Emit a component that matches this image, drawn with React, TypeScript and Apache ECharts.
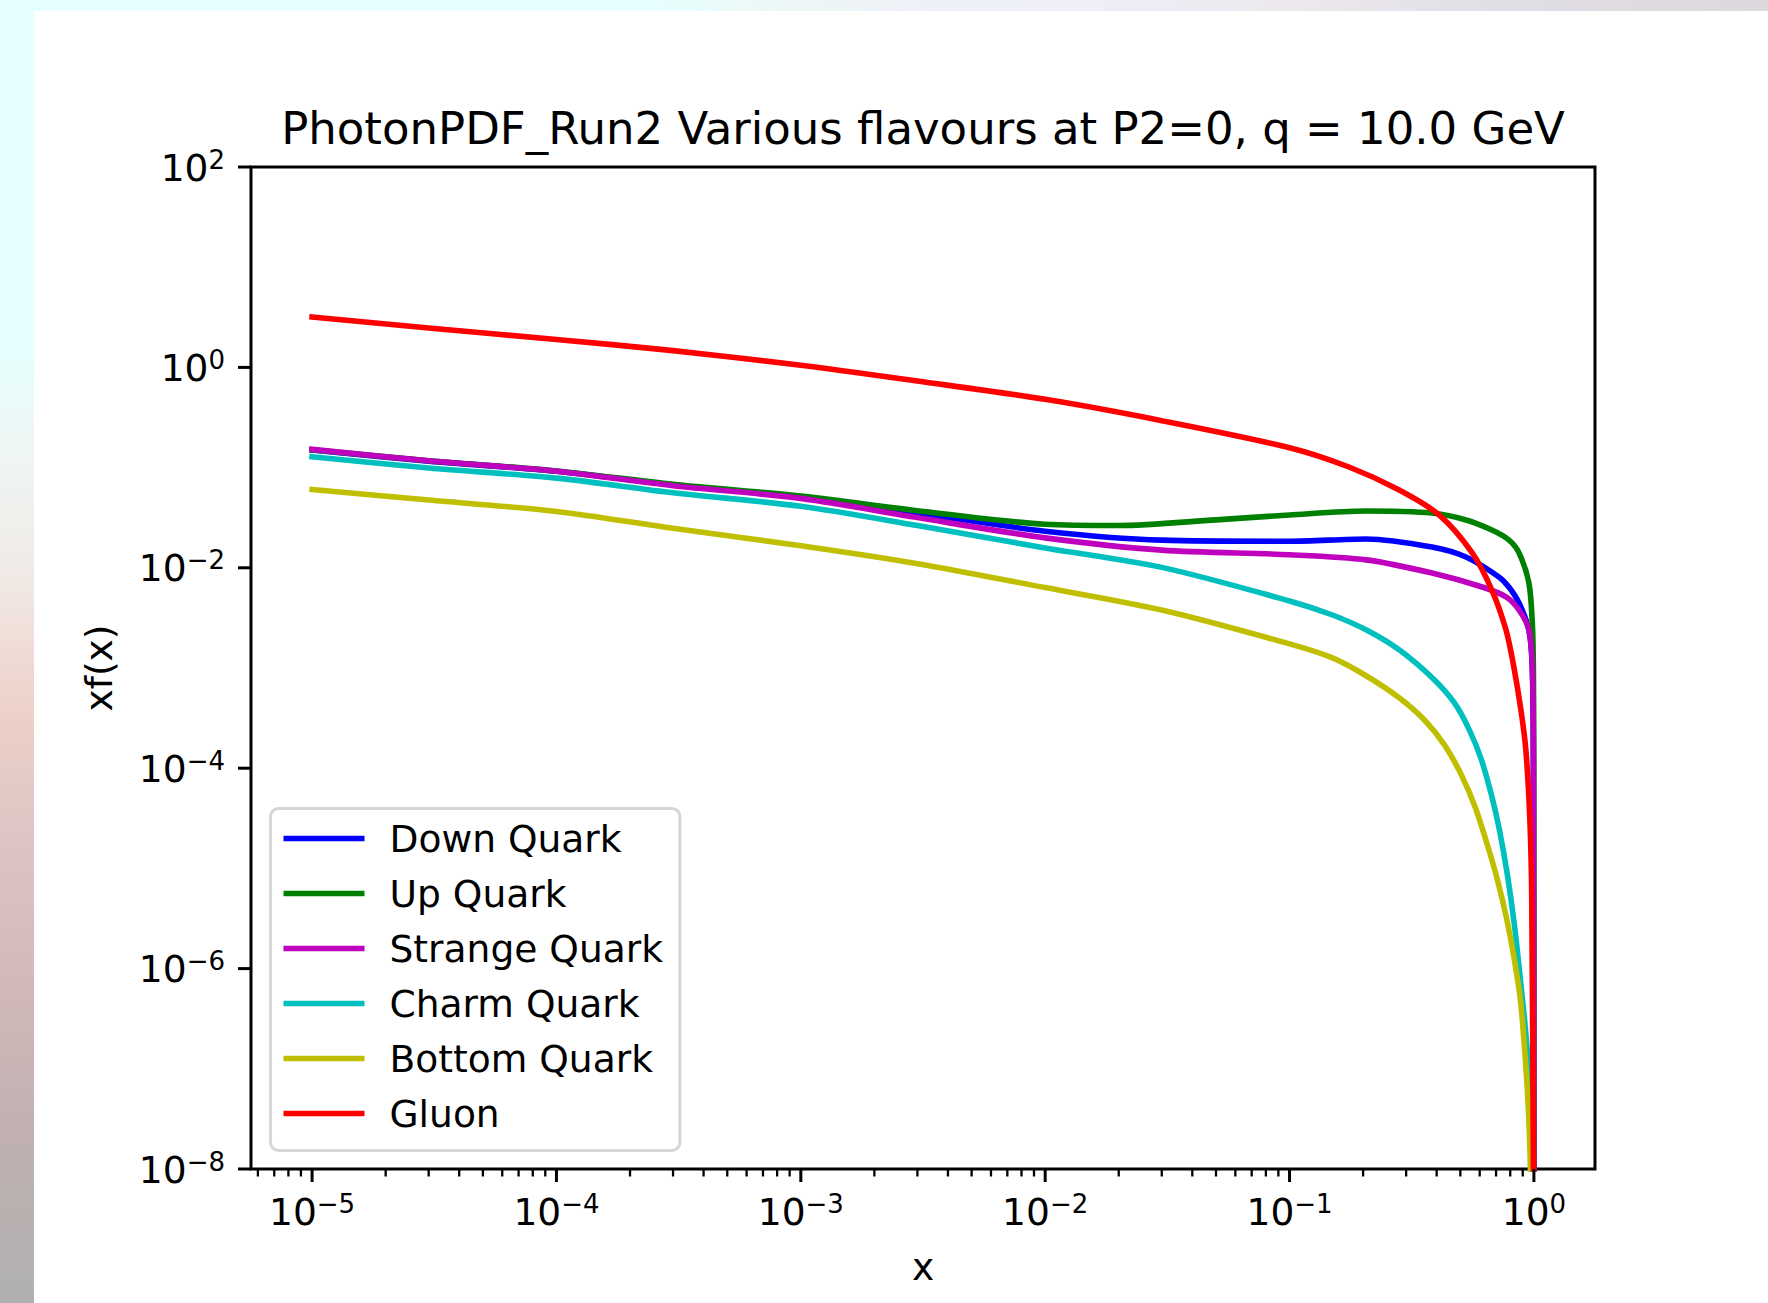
import React, { useEffect, useRef } from 'react';
import * as echarts from 'echarts';

// ---------- texts ----------
const TITLE = 'PhotonPDF_Run2 Various flavours at P2=0, q = 10.0 GeV';
const X_LABEL = 'x';
const Y_LABEL = 'xf(x)';

// ---------- axes ----------
const X_MIN_EXP = -5.25;
const X_MAX_EXP = 0.25;
const Y_MIN_EXP = -8;
const Y_MAX_EXP = 2;
const xMajorExps = [-5, -4, -3, -2, -1, 0];
const yMajorExps = [-8, -6, -4, -2, 0, 2];
const xMinorDecades = [-6, -5, -4, -3, -2, -1];
const xMinorMultipliers = [2, 3, 4, 5, 6, 7, 8, 9];

// ---------- series ----------
const seriesNames = ['Down Quark', 'Up Quark', 'Strange Quark', 'Charm Quark', 'Bottom Quark', 'Gluon'];
const seriesColors = ['#0000ff', '#008000', '#bf00bf', '#00bfbf', '#bfbf00', '#ff0000'];

const downQuark = [
  [1e-5, 0.150], [3e-5, 0.116], [1e-4, 0.0918], [3e-4, 0.0671], [1e-3, 0.0506], [3e-3, 0.0352],
  [1e-2, 0.0232], [3e-2, 0.0189], [0.1, 0.0184], [0.206, 0.0194], [0.383, 0.0161], [0.527, 0.0128],
  [0.719, 0.0081], [0.791, 0.0064], [0.869, 0.00445], [0.954, 0.00239], [0.985, 0.001], [0.995, 1e-4],
  [0.9995, 1e-9],
];
const upQuark = [
  [1e-5, 0.151], [3e-5, 0.117], [1e-4, 0.0925], [3e-4, 0.068], [1e-3, 0.0519], [3e-3, 0.0371],
  [1e-2, 0.0272], [2e-2, 0.0264], [5e-2, 0.0301], [0.1, 0.0337], [0.206, 0.0369], [0.383, 0.0352],
  [0.527, 0.030], [0.673, 0.0238], [0.791, 0.0189], [0.869, 0.0141], [0.954, 0.00705], [0.985, 0.0028],
  [0.995, 0.001], [0.999, 1e-4], [0.9999, 1e-9],
];
const strangeQuark = [
  [1e-5, 0.152], [3e-5, 0.117], [1e-4, 0.092], [3e-4, 0.066], [1e-3, 0.0493], [3e-3, 0.0317],
  [1e-2, 0.0199], [3e-2, 0.0150], [0.1, 0.0135], [0.206, 0.0120], [0.383, 0.00887], [0.614, 0.00643],
  [0.769, 0.00512], [0.869, 0.00379], [0.954, 0.00239], [0.985, 0.00102], [0.995, 1.5e-4], [0.9995, 1e-9],
];
const charmQuark = [
  [1e-5, 0.1285], [3e-5, 0.099], [1e-4, 0.0785], [3e-4, 0.0561], [1e-3, 0.0411], [3e-3, 0.0264],
  [1e-2, 0.0158], [3e-2, 0.0101], [0.1, 0.00467], [0.1499, 0.00338], [0.2065, 0.00239], [0.2817, 0.00151],
  [0.3845, 7.94e-4], [0.4729, 4.48e-4], [0.5447, 2.40e-4], [0.6099, 1.21e-4], [0.6704, 5.4e-5],
  [0.7228, 2.42e-5], [0.7791, 8.6e-6], [0.8322, 2.72e-6], [0.8807, 7.7e-7], [0.9318, 1.94e-7],
  [0.9676, 4.9e-8], [0.986, 1.05e-8], [0.99, 1e-9],
];
const bottomQuark = [
  [1e-5, 0.0605], [3e-5, 0.0475], [1e-4, 0.0365], [3e-4, 0.0248], [1e-3, 0.0166], [3e-3, 0.011],
  [1e-2, 0.00635], [3e-2, 0.00379], [0.1, 0.00174], [0.1499, 0.00126], [0.2065, 8.32e-4], [0.2817, 5.02e-4],
  [0.3565, 3.03e-4], [0.4303, 1.71e-4], [0.5051, 8.55e-5], [0.5765, 4.01e-5], [0.6454, 1.71e-5],
  [0.7093, 7.66e-6], [0.7722, 3.2e-6], [0.8322, 1.22e-6], [0.8807, 4.86e-7], [0.923, 1.22e-7],
  [0.9495, 3.88e-8], [0.9676, 1.0e-8], [0.972, 1e-9],
];
const gluon = [
  [1e-5, 3.19], [3e-5, 2.47], [1e-4, 1.90], [3e-4, 1.47], [1e-3, 1.05], [3e-3, 0.73], [1e-2, 0.48],
  [3e-2, 0.294], [0.1, 0.158], [0.175, 0.1014], [0.281, 0.0597], [0.409, 0.0337], [0.559, 0.0141],
  [0.673, 0.006], [0.769, 0.00239], [0.828, 0.00102], [0.885, 3.8e-4], [0.927, 1.52e-4], [0.963, 3.0e-5],
  [0.98, 4.8e-6], [0.995, 1e-8], [0.999, 1e-9],
];
const seriesData = [downQuark, upQuark, strangeQuark, charmQuark, bottomQuark, gluon];

// ---------- styling ----------
const FONT = 'DejaVu Sans';
const MAIN_SIZE = 37.6;
const SUP_SIZE = 26;
const MAJOR_LEN = 13;
const MINOR_LEN = 7.5;
const TICK_PAD = 13;

let measureCtx: CanvasRenderingContext2D | null = null;
function textWidth(t: string, size: number): number {
  if (!measureCtx) measureCtx = document.createElement('canvas').getContext('2d');
  if (!measureCtx) return t.length * size * 0.6;
  measureCtx.font = `${size}px "${FONT}"`;
  return measureCtx.measureText(t).width;
}
function expText(e: number): string {
  return e < 0 ? '\u2212' + Math.abs(e) : String(e);
}
function txt(x: number, y: number, text: string, size: number, align: string) {
  return {
    type: 'text',
    x,
    y,
    style: {
      text,
      fontSize: size,
      fontFamily: FONT,
      fill: '#000',
      align,
      verticalAlign: 'middle',
      textAlign: align,
      textVerticalAlign: 'middle',
    },
  };
}

export default function App() {
  const ref = useRef<HTMLDivElement>(null);

  useEffect(() => {
    if (!ref.current) return;
    const chart = echarts.init(ref.current, null, { renderer: 'svg' });
    const xMin = Math.pow(10, X_MIN_EXP);
    const yMin = Math.pow(10, Y_MIN_EXP);

    const xMinorValues: number[] = [];
    xMinorDecades.forEach((d) => {
      xMinorMultipliers.forEach((m) => {
        const v = m * Math.pow(10, d);
        const lv = Math.log10(v);
        if (lv >= X_MIN_EXP && lv <= X_MAX_EXP) xMinorValues.push(v);
      });
    });

    const lineSeries = seriesNames.map((name, i) => ({
      name,
      type: 'line',
      data: seriesData[i],
      showSymbol: false,
      symbol: 'none',
      silent: true,
      smooth: 0.3,
      lineStyle: { color: seriesColors[i], width: 5.6, cap: 'square', join: 'round' },
      itemStyle: { color: seriesColors[i] },
      emphasis: { disabled: true },
      z: 2,
    }));

    const option: any = {
      animation: false,
      backgroundColor: '#ffffff',
      grid: {
        left: 217,
        top: 156,
        width: 1344,
        height: 1002,
        show: true,
        borderColor: '#000',
        borderWidth: 3,
        backgroundColor: 'transparent',
        containLabel: false,
      },
      xAxis: {
        type: 'log',
        logBase: 10,
        min: xMin,
        max: Math.pow(10, X_MAX_EXP),
        axisLine: { show: false },
        axisTick: { show: false },
        axisLabel: { show: false },
        splitLine: { show: false },
        minorTick: { show: false },
      },
      yAxis: {
        type: 'log',
        logBase: 10,
        min: yMin,
        max: Math.pow(10, Y_MAX_EXP),
        axisLine: { show: false },
        axisTick: { show: false },
        axisLabel: { show: false },
        splitLine: { show: false },
        minorTick: { show: false },
      },
      legend: {
        data: seriesNames,
        orient: 'vertical',
        left: 236.5,
        top: 797.5,
        padding: [10, 17, 17, 13],
        itemWidth: 81,
        itemHeight: 5.6,
        itemGap: 15,
        icon: 'rect',
        selectedMode: false,
        backgroundColor: 'rgba(255,255,255,0.8)',
        borderColor: '#d6d6d6',
        borderWidth: 3,
        borderRadius: 8,
        formatter: (n: string) => `{t|${n}}`,
        textStyle: {
          color: '#000',
          fontFamily: FONT,
          fontSize: MAIN_SIZE,
          lineHeight: 40,
          rich: {
            t: { padding: [0, 0, 0, 20], color: '#000', fontFamily: FONT, fontSize: MAIN_SIZE, lineHeight: 40 },
          },
        },
      },
      graphic: [
        txt(889, 117.7, TITLE, 45, 'center'),
        txt(889, 1256, X_LABEL, MAIN_SIZE, 'center'),
        { ...txt(65, 657, Y_LABEL, MAIN_SIZE, 'center'), rotation: Math.PI / 2 },
      ],
      series: [
        ...lineSeries,
        {
          type: 'custom',
          name: 'xMajorTicks',
          silent: true,
          clip: false,
          z: 5,
          data: xMajorExps.map((e) => [Math.pow(10, e), yMin]),
          renderItem: (params: any, api: any) => {
            const p = api.coord([api.value(0), api.value(1)]);
            const e = xMajorExps[params.dataIndex];
            const sup = expText(e);
            const wb = textWidth('10', MAIN_SIZE);
            const ws = textWidth(sup, SUP_SIZE);
            const left = p[0] - (wb + ws) / 2;
            const cy = p[1] + MAJOR_LEN + TICK_PAD + 16.5;
            return {
              type: 'group',
              children: [
                { type: 'line', shape: { x1: p[0], y1: p[1], x2: p[0], y2: p[1] + MAJOR_LEN }, style: { stroke: '#000', lineWidth: 3 } },
                txt(left, cy, '10', MAIN_SIZE, 'left'),
                txt(left + wb, cy - 8, sup, SUP_SIZE, 'left'),
              ],
            };
          },
        },
        {
          type: 'custom',
          name: 'xMinorTicks',
          silent: true,
          clip: false,
          z: 5,
          data: xMinorValues.map((v) => [v, yMin]),
          renderItem: (params: any, api: any) => {
            const p = api.coord([api.value(0), api.value(1)]);
            return { type: 'line', shape: { x1: p[0], y1: p[1], x2: p[0], y2: p[1] + MINOR_LEN }, style: { stroke: '#000', lineWidth: 2.3 } };
          },
        },
        {
          type: 'custom',
          name: 'yMajorTicks',
          silent: true,
          clip: false,
          z: 5,
          data: yMajorExps.map((e) => [xMin, Math.pow(10, e)]),
          renderItem: (params: any, api: any) => {
            const p = api.coord([api.value(0), api.value(1)]);
            const e = yMajorExps[params.dataIndex];
            const sup = expText(e);
            const ws = textWidth(sup, SUP_SIZE);
            const right = p[0] - MAJOR_LEN - TICK_PAD;
            return {
              type: 'group',
              children: [
                { type: 'line', shape: { x1: p[0], y1: p[1], x2: p[0] - MAJOR_LEN, y2: p[1] }, style: { stroke: '#000', lineWidth: 3 } },
                txt(right - ws, p[1] + 0.5, '10', MAIN_SIZE, 'right'),
                txt(right, p[1] - 7.5, sup, SUP_SIZE, 'right'),
              ],
            };
          },
        },
      ],
    };
    chart.setOption(option);
    return () => chart.dispose();
  }, []);

  return (
    <div style={{ position: 'absolute', left: 0, top: 0, width: 1768, height: 1303, overflow: 'hidden', background: '#fff' }}>
      <div
        style={{
          position: 'absolute', left: 0, top: 0, width: 1768, height: 11,
          background: 'linear-gradient(to right, #e6fffe 0px, #e6fffe 650px, #eef6f6 800px, #eef0f8 950px, #eeeef6 1100px, #ece8ee 1300px, #e2dee6 1500px, #dcd8dc 1768px)',
        }}
      />
      <div
        style={{
          position: 'absolute', left: 0, top: 0, width: 34, height: 1303,
          background: 'linear-gradient(to bottom, #e6fffe 0px, #e6fffe 350px, #eef6f4 450px, #f0ece8 560px, #f0dcd6 650px, #ecd0c8 720px, #dcc4c4 850px, #d0b8b8 1000px, #bfb0b0 1150px, #b0b0b0 1303px)',
        }}
      />
      <div ref={ref} style={{ position: 'absolute', left: 34, top: 11, width: 1734, height: 1292 }} />
    </div>
  );
}
